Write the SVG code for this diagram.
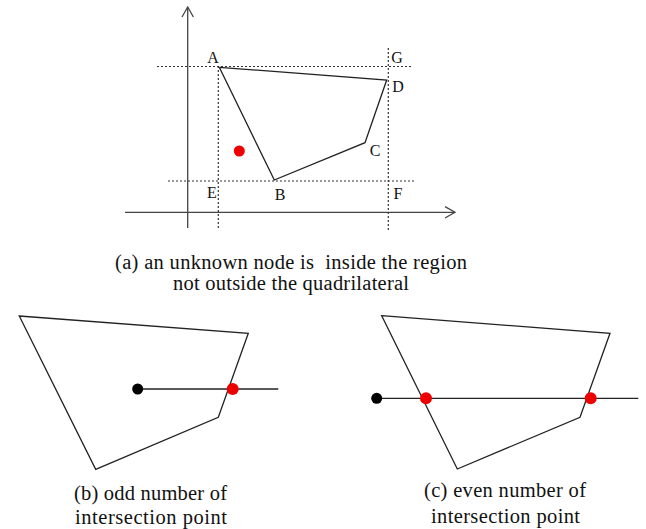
<svg xmlns="http://www.w3.org/2000/svg" width="646" height="529" viewBox="0 0 646 529">
<defs>
<style>
.t{font-family:"Liberation Serif","Tinos","DejaVu Serif",serif;fill:#111}
.lbl{font-size:16px;text-anchor:middle}
.cap{font-size:20.5px;text-anchor:middle}
.ln{stroke:#222;stroke-width:1.3;fill:none}
.ax{stroke:#444;stroke-width:1.3;fill:none}
.dot{stroke:#333;stroke-width:1.2;stroke-dasharray:2 2;fill:none}
.red{fill:#ee0000}
.blk{fill:#000}
</style>
</defs>
<rect width="646" height="529" fill="#fff"/>
<g id="panel-a">
<g id="axes">
<line class="ax" x1="187.7" y1="228" x2="187.7" y2="7"/>
<polyline class="ax" points="182,17 187.7,7 193.4,17"/>
<line class="ax" x1="125" y1="212.3" x2="455" y2="212.3"/>
<polyline class="ax" points="445,206.6 455,212.3 445,218"/>
</g>
<g id="guides">
<line class="dot" x1="157" y1="66.5" x2="412" y2="66.5"/>
<line class="dot" x1="168" y1="181" x2="415" y2="181"/>
<line class="dot" x1="218.3" y1="66" x2="218.3" y2="230"/>
<line class="dot" x1="388.3" y1="48" x2="388.3" y2="230"/>
</g>
<g id="quad-a">
<polygon class="ln" points="219.3,67.3 386.7,80 365,142.7 274.3,180"/>
</g>
<g id="node-unknown">
<circle class="red" cx="239.3" cy="151" r="5.5"/>
</g>
<g id="labels-a">
<text class="t lbl" x="213" y="63">A</text>
<text class="t lbl" x="397" y="63">G</text>
<text class="t lbl" x="398" y="92">D</text>
<text class="t lbl" x="375" y="156">C</text>
<text class="t lbl" x="212" y="198">E</text>
<text class="t lbl" x="280" y="200">B</text>
<text class="t lbl" x="398" y="199">F</text>
</g>
<text class="t cap" x="291" y="269" textLength="352" lengthAdjust="spacing" xml:space="preserve">(a) an unknown node is  inside the region</text>
<text class="t cap" x="291" y="290" textLength="236" lengthAdjust="spacing">not outside the quadrilateral</text>
</g>
<g id="panel-b">
<polygon class="ln" points="19.3,316 248.3,333.3 218.3,417.3 95.7,469.3"/>
<g id="connectors-b">
<line class="ln" x1="137.7" y1="389" x2="278.3" y2="389"/>
</g>
<circle class="blk" cx="137.7" cy="389" r="5.5"/>
<circle class="red" cx="232.7" cy="389" r="6"/>
<text class="t cap" x="150.5" y="499.5" textLength="153" lengthAdjust="spacing">(b) odd number of</text>
<text class="t cap" x="151" y="524" textLength="152" lengthAdjust="spacing">intersection point</text>
</g>
<g id="panel-c">
<polygon class="ln" points="381.7,315.7 610,333.3 580,417.3 457.3,469"/>
<g id="connectors-c">
<line class="ln" x1="376.7" y1="398.3" x2="638.3" y2="398.3"/>
</g>
<circle class="blk" cx="376.7" cy="398.3" r="5.5"/>
<circle class="red" cx="426" cy="398.3" r="6"/>
<circle class="red" cx="590.7" cy="398.3" r="6"/>
<text class="t cap" x="505" y="497" textLength="162" lengthAdjust="spacing">(c) even number of</text>
<text class="t cap" x="505.5" y="523" textLength="149" lengthAdjust="spacing">intersection point</text>
</g>
</svg>
